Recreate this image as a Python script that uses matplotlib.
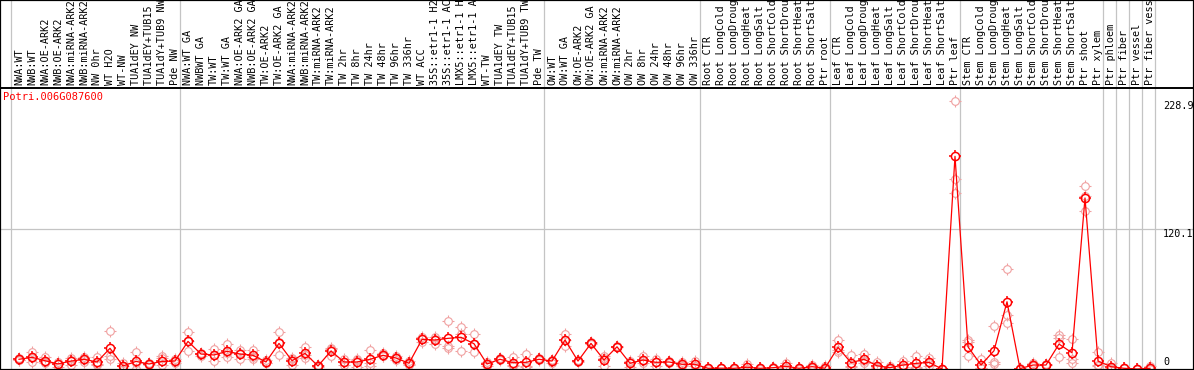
import numpy as np
import matplotlib
matplotlib.use("Agg")
import matplotlib.pyplot as plt
from matplotlib.path import Path
from matplotlib.patches import Rectangle

# sample names (top labels)
labels = [
    "NWA:WT", "NWB:WT", "NWA:OE-ARK2", "NWB:OE-ARK2", "NWA:miRNA-ARK2", "NWB:miRNA-ARK2",
    "NW 0hr", "WT H2O", "WT-NW", "TUA1dEY NW", "TUA1dEY+TUB15 NW", "TUA1dY+TUB9 NW", "Pde NW",
    "NWA:WT GA", "NWBWT GA", "TW:WT", "TW:WT GA", "NWA:OE-ARK2 GA", "NWB:OE-ARK2 GA",
    "TW:OE-ARK2", "TW:OE-ARK2 GA", "NWA:miRNA-ARK2", "NWB:miRNA-ARK2", "TW:miRNA-ARK2",
    "TW:miRNA-ARK2", "TW 2hr", "TW 8hr", "TW 24hr", "TW 48hr", "TW 96hr", "TW 336hr", "WT ACC",
    "35S::etr1-1 H2O", "35S::etr1-1 ACC", "LMX5::etr1-1 H2O", "LMX5::etr1-1 ACC", "WT-TW",
    "TUA1dEY TW", "TUA1dEY+TUB15 TW", "TUA1dY+TUB9 TW", "Pde TW",
    "OW:WT", "OW:WT GA", "OW:OE-ARK2", "OW:OE-ARK2 GA", "OW:miRNA-ARK2", "OW:miRNA-ARK2",
    "OW 2hr", "OW 8hr", "OW 24hr", "OW 48hr", "OW 96hr", "OW 336hr",
    "Root CTR", "Root LongCold", "Root LongDrought", "Root LongHeat", "Root LongSalt",
    "Root ShortCold", "Root ShortDrought", "Root ShortHeat", "Root ShortSalt", "Ptr root",
    "Leaf CTR", "Leaf LongCold", "Leaf LongDrought", "Leaf LongHeat", "Leaf LongSalt",
    "Leaf ShortCold", "Leaf ShortDrought", "Leaf ShortHeat", "Leaf ShortSalt", "Ptr leaf",
    "Stem CTR", "Stem LongCold", "Stem LongDrought", "Stem LongHeat", "Stem LongSalt",
    "Stem ShortCold", "Stem ShortDrought", "Stem ShortHeat", "Stem ShortSalt", "Ptr shoot",
    "Ptr xylem", "Ptr phloem", "Ptr fiber", "Ptr vessel", "Ptr fiber vessel",
]

# mean expression per sample
means = [
    8.3, 10, 7.1, 4.3, 6.8, 8.3, 6, 17.7, 2.6, 6.5, 4.3, 6.5, 6.8,
    23.6, 12.8, 12, 15.1, 12.8, 11.7, 6, 21.9, 7.1, 13.4, 2.6, 15.4, 6, 6, 8.3, 11.7,
    9.4, 4.9, 25.3, 24.8, 26.2, 27.1, 21.6, 4.3, 8.3, 5.4, 5.7, 8.3,
    6.8, 24.8, 6.8, 21.9, 7.7, 19, 4.9, 7.7, 5.7, 6, 4, 4,
    0.6, 0.7, 0.6, 1.5, 0.6, 1.1, 2.3, 0.6, 2, 0.7,
    18.5, 5.4, 8.3, 2.8, 1.1, 3.4, 4.8, 5.7, 0, 181.8,
    19, 3.4, 15.6, 57.5, 0.3, 3.4, 3.4, 21.3, 13.9, 146.2, 6.8,
    2, 0.6, 0, 0.6,
]

# replicate values per sample
reps = [
    [9.5, 7.5, 8], [14.3, 6, 9.5], [10.5, 4.9, 6], [2, 4.5, 6], [9.1, 3.4, 7.8],
    [10.5, 6.3, 8], [10, 3.4, 4.5], [32.2, 11.1, 8.3], [5.4, 0, 2.4], [14.3, 0, 5.2],
    [5.5, 3.5, 4], [10.8, 9.1, 3.4], [8.3, 5, 7],
    [31.3, 15.6, 24], [14, 11.5, 13], [17, 6.8, 12.2], [21.3, 10, 14], [16.2, 8.3, 14],
    [16.2, 8.3, 10.6], [7.5, 5, 5.5], [31.3, 11.7, 22.7], [9.1, 3.4, 8.8],
    [19, 9.1, 12], [3.5, 1.5, 2.8], [18.2, 11.1, 17], [8.8, 3.4, 5.8], [8.3, 2, 7.7],
    [16.2, 5.1, 2.6], [13.4, 10.8, 11], [11, 7.5, 9.7], [6.5, 3.5, 4.7],
    [27, 23.5, 25.4], [27.6, 21.3, 25.5], [40.7, 19.6, 18.2], [35.6, 15.6, 30],
    [29.6, 14.3, 21], [6, 2.6, 4.3], [9.1, 7.5, 8.3], [10.5, 2.6, 3.1], [12.8, 2, 2.3],
    [9.1, 7.5, 8.3],
    [7.7, 4.9, 7.8], [29.9, 19.9, 24.6], [6.8, 6, 7.6], [21.9, 21, 22.8], [11.4, 2.8, 9],
    [19.5, 18.5, 19], [5.7, 2, 7], [11.4, 5, 6.7], [8.3, 2.8, 6], [6.8, 4.9, 6.3],
    [6, 2.6, 3.4], [7.1, 2.6, 2.3],
    [1, 0.5, 0.3], [1, 0.6, 0.5], [1, 0.5, 0.3], [4, 0.3, 0.2], [1, 0.5, 0.3],
    [2, 0.8, 0.5], [5.4, 1, 0.5], [1, 0.5, 0.3], [3.4, 1.5, 1.1], [2.8, 0, 0],
    [24.8, 14.3, 16.4], [11.7, 2, 2.5], [12.5, 5.4, 7], [6, 1.5, 1], [2.6, 0.5, 0.2],
    [6.8, 2, 1.4], [11.1, 1.2, 2.1], [9, 2.8, 5.3], [0, 0, 0], [228.9, 162.2, 150.8],
    [24.8, 23.3, 11.1], [8.3, 1, 1], [36.7, 5.7, 4.5], [85.9, 46.1, 39], [0.5, 0.2, 0.2],
    [4.8, 3, 2.5], [4, 3, 3.2], [29, 26.2, 10.5], [25.6, 8.3, 5.4], [156.2, 147.9, 134.9],
    [14.8, 3, 2.6],
    [5.4, 0.5, 0.2], [0.6, 0.5, 0.7], [0, 0, 0], [2.2, 0, 0],
]

# separators between sample groups
group_lines = [-0.62, 12.38, 40.38, 52.38, 62.38, 72.38, 83.42, 84.4, 85.38, 86.38, 87.38]

gene = "Potri.006G087600"
y_max_label = 228.9
y_mid = 120.1
y_top = 240.2

W, H = 1194, 370
fig = plt.figure(figsize=(W / 100, H / 100), dpi=100)
ax = fig.add_axes([0, 0, 1, 282 / H])

x = np.arange(len(means))
ax.set_xlim(-19 / 13, (W - 19) / 13)
ax.set_ylim(-1 / 1.1716, y_top)

# four little ticks around each circle
R = 1.45
tick_verts = [(0, 1), (0, R), (0, -1), (0, -R), (1, 0), (R, 0), (-1, 0), (-R, 0)]
ticks = Path(tick_verts, [Path.MOVETO, Path.LINETO] * 4)

mono = "DejaVu Sans Mono"


def draw_marks(xs, ys, color, size, lw, z):
    ax.plot(xs, ys, linestyle="none", marker=ticks, markersize=size,
            markeredgecolor=color, markeredgewidth=lw, zorder=z, clip_on=False)
    ax.plot(xs, ys, linestyle="none", marker="o", markersize=size / R,
            markerfacecolor="none", markeredgecolor=color, markeredgewidth=lw,
            zorder=z, clip_on=False)


for xv in group_lines:
    ax.axvline(xv, ymin=-0.01, ymax=H / 282 + 0.01, color="#c4c4c4", lw=0.9,
               clip_on=False, zorder=1)
ax.axhline(y_mid, color="#c4c4c4", lw=0.9, zorder=1)

rx = [i for i, r in enumerate(reps) for _ in r]
ry = [v for r in reps for v in r]
draw_marks(rx, ry, "#f0a0a0", 8, 0.8, 2)

ax.plot(x, means, color="red", lw=0.9, zorder=3)
draw_marks(x, means, "red", 8.5, 1.1, 4)

for i, lab in enumerate(labels):
    ax.text(i, 1.0 + 3 / 282, lab, transform=ax.get_xaxis_transform(), rotation=90,
            ha="center", va="bottom", fontsize=7.3, family=mono, clip_on=False)

ax.text(3 / W, 1 - 4 / 282, gene, transform=ax.transAxes, color="red",
        fontsize=7.5, family=mono, ha="left", va="top")

xt = 1163 / W
ax.text(xt, y_max_label, "%.1f" % y_max_label, transform=ax.get_yaxis_transform(),
        fontsize=7.3, family=mono, ha="left", va="top")
ax.text(xt, y_mid, "%.1f" % y_mid, transform=ax.get_yaxis_transform(),
        fontsize=7.3, family=mono, ha="left", va="top")
ax.text(xt, 1.5, "0", transform=ax.get_yaxis_transform(),
        fontsize=7.3, family=mono, ha="left", va="bottom")

ax.set_xticks([])
ax.set_yticks([])
for s in ax.spines.values():
    s.set_color("black")
    s.set_linewidth(1.4)

fig.add_artist(Rectangle((0, 0), 1, 1, transform=fig.transFigure, fill=False,
                         ec="black", lw=1.6))

fig.savefig("out.png", dpi=100)
